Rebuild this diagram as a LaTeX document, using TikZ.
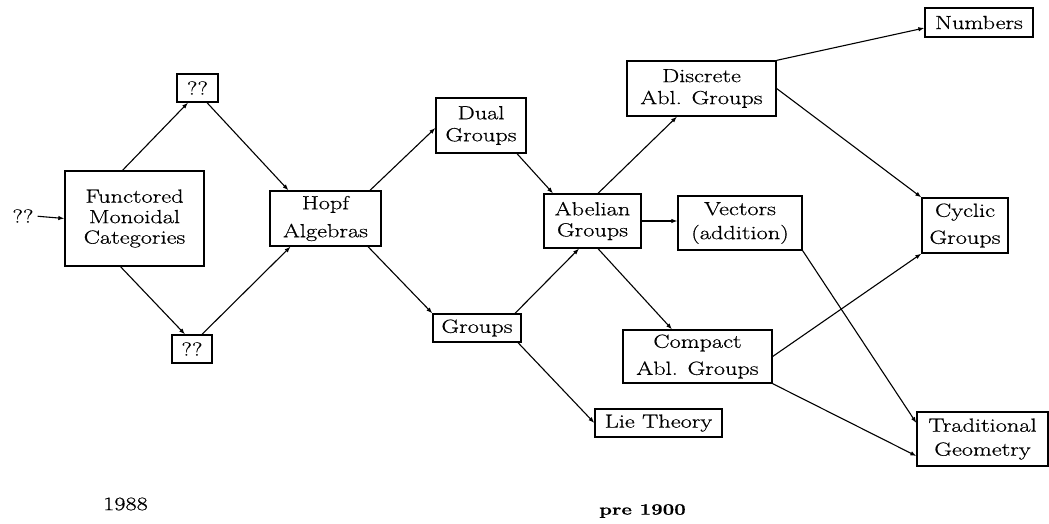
\documentclass[tikz,border=0pt]{standalone}
\usepackage{fontspec}
\setmainfont{Latin Modern Roman}[FakeStretch=1.28,FakeBold=0.6]
\usetikzlibrary{arrows.meta}
\begin{document}
\begin{tikzpicture}[x=1pt,y=-1pt,
  bx/.style={draw,line width=1.3pt,inner sep=0pt,align=center,
    font=\fontsize{19}{#1}\selectfont},
  bx/.default=21,
  lbl/.style={inner sep=1pt,font=\fontsize{19}{21}\selectfont},
  arr/.style={line width=1.1pt,-{Latex[length=6pt,width=4.5pt]}}]
\useasboundingbox[fill=white] (0,0) rectangle (1049,524);
% nodes
\node[lbl] (q0) at (23,216) {??};
\node[bx=20.5,minimum width=139pt,minimum height=95pt] (fmc) at (134.5,218.5) {Functored\\Monoidal\\Categories};
\node[bx,minimum width=41pt,minimum height=28pt] (qt) at (197.5,88) {??};
\node[bx,minimum width=40pt,minimum height=28pt] (qb) at (192,349) {??};
\node[bx=28,minimum width=111pt,minimum height=55pt] (hopf) at (325.5,218.5) {Hopf\\Algebras};
\node[bx=22,minimum width=90pt,minimum height=55pt] (dual) at (481,125.5) {Dual\\Groups};
\node[bx,minimum width=88pt,minimum height=28pt] (groups) at (477,328) {Groups};
\node[bx=21,minimum width=97pt,minimum height=54pt] (abel) at (592.5,221) {Abelian\\Groups};
\node[bx=22,minimum width=149pt,minimum height=55pt] (disc) at (701.5,88.5) {Discrete\\Abl. Groups};
\node[bx=24,minimum width=124pt,minimum height=54pt] (vec) at (740,223) {Vectors\\(addition)};
\node[bx=27,minimum width=149pt,minimum height=53pt] (comp) at (697.5,356.5) {Compact\\Abl. Groups};
\node[bx,minimum width=127pt,minimum height=28pt] (lie) at (658.5,423) {Lie Theory};
\node[bx,minimum width=108pt,minimum height=29pt] (num) at (979,22.5) {Numbers};
\node[bx=27,minimum width=86pt,minimum height=55pt] (cyc) at (965,225.5) {Cyclic\\Groups};
\node[bx=24,minimum width=131pt,minimum height=54pt] (trad) at (982.5,439) {Traditional\\Geometry};
\node[lbl] (y1988) at (125.5,504) {1988};
\node[lbl,font=\fontsize{16}{18}\selectfont\bfseries] (pre) at (642.5,511) {pre 1900};
% connectors
\draw[arr,shorten <=3pt] (q0.east) -- (fmc.west);
\draw[arr] ([xshift=-12pt]fmc.north) -- ([xshift=-9.5pt]qt.south);
\draw[arr] ([xshift=9.5pt]qt.south) -- ([xshift=-37pt]hopf.north);
\draw[arr] ([xshift=-14pt]fmc.south) -- ([xshift=-7pt]qb.north);
\draw[arr] ([xshift=10pt]qb.north) -- ([xshift=-35pt]hopf.south);
\draw[arr] ([xshift=44.5pt]hopf.north) -- ([yshift=-2.5pt]dual.west);
\draw[arr] ([xshift=42.5pt]hopf.south) -- (groups.north west);
\draw[arr] ([xshift=36pt]dual.south) -- ([xshift=-39.5pt]abel.north);
\draw[arr] ([xshift=38pt]groups.north) -- ([xshift=-13.5pt]abel.south);
\draw[arr] ([xshift=41pt]groups.south) -- (lie.west);
\draw[arr] ([xshift=5.5pt]abel.north) -- ([xshift=-24.5pt]disc.south);
\draw[arr] (abel.east) -- (abel.east -| vec.west);
\draw[arr] ([xshift=5.5pt]abel.south) -- ([xshift=-25.5pt]comp.north);
\draw[arr] (disc.north east) -- ([yshift=-5.5pt]num.west);
\draw[arr] (disc.east) -- (cyc.north west);
\draw[arr] (vec.south east) -- ([yshift=16pt]trad.west);
\draw[arr] (comp.east) -- (cyc.south west);
\draw[arr] (comp.south east) -- ([yshift=-17pt]trad.west);
\end{tikzpicture}
\end{document}
